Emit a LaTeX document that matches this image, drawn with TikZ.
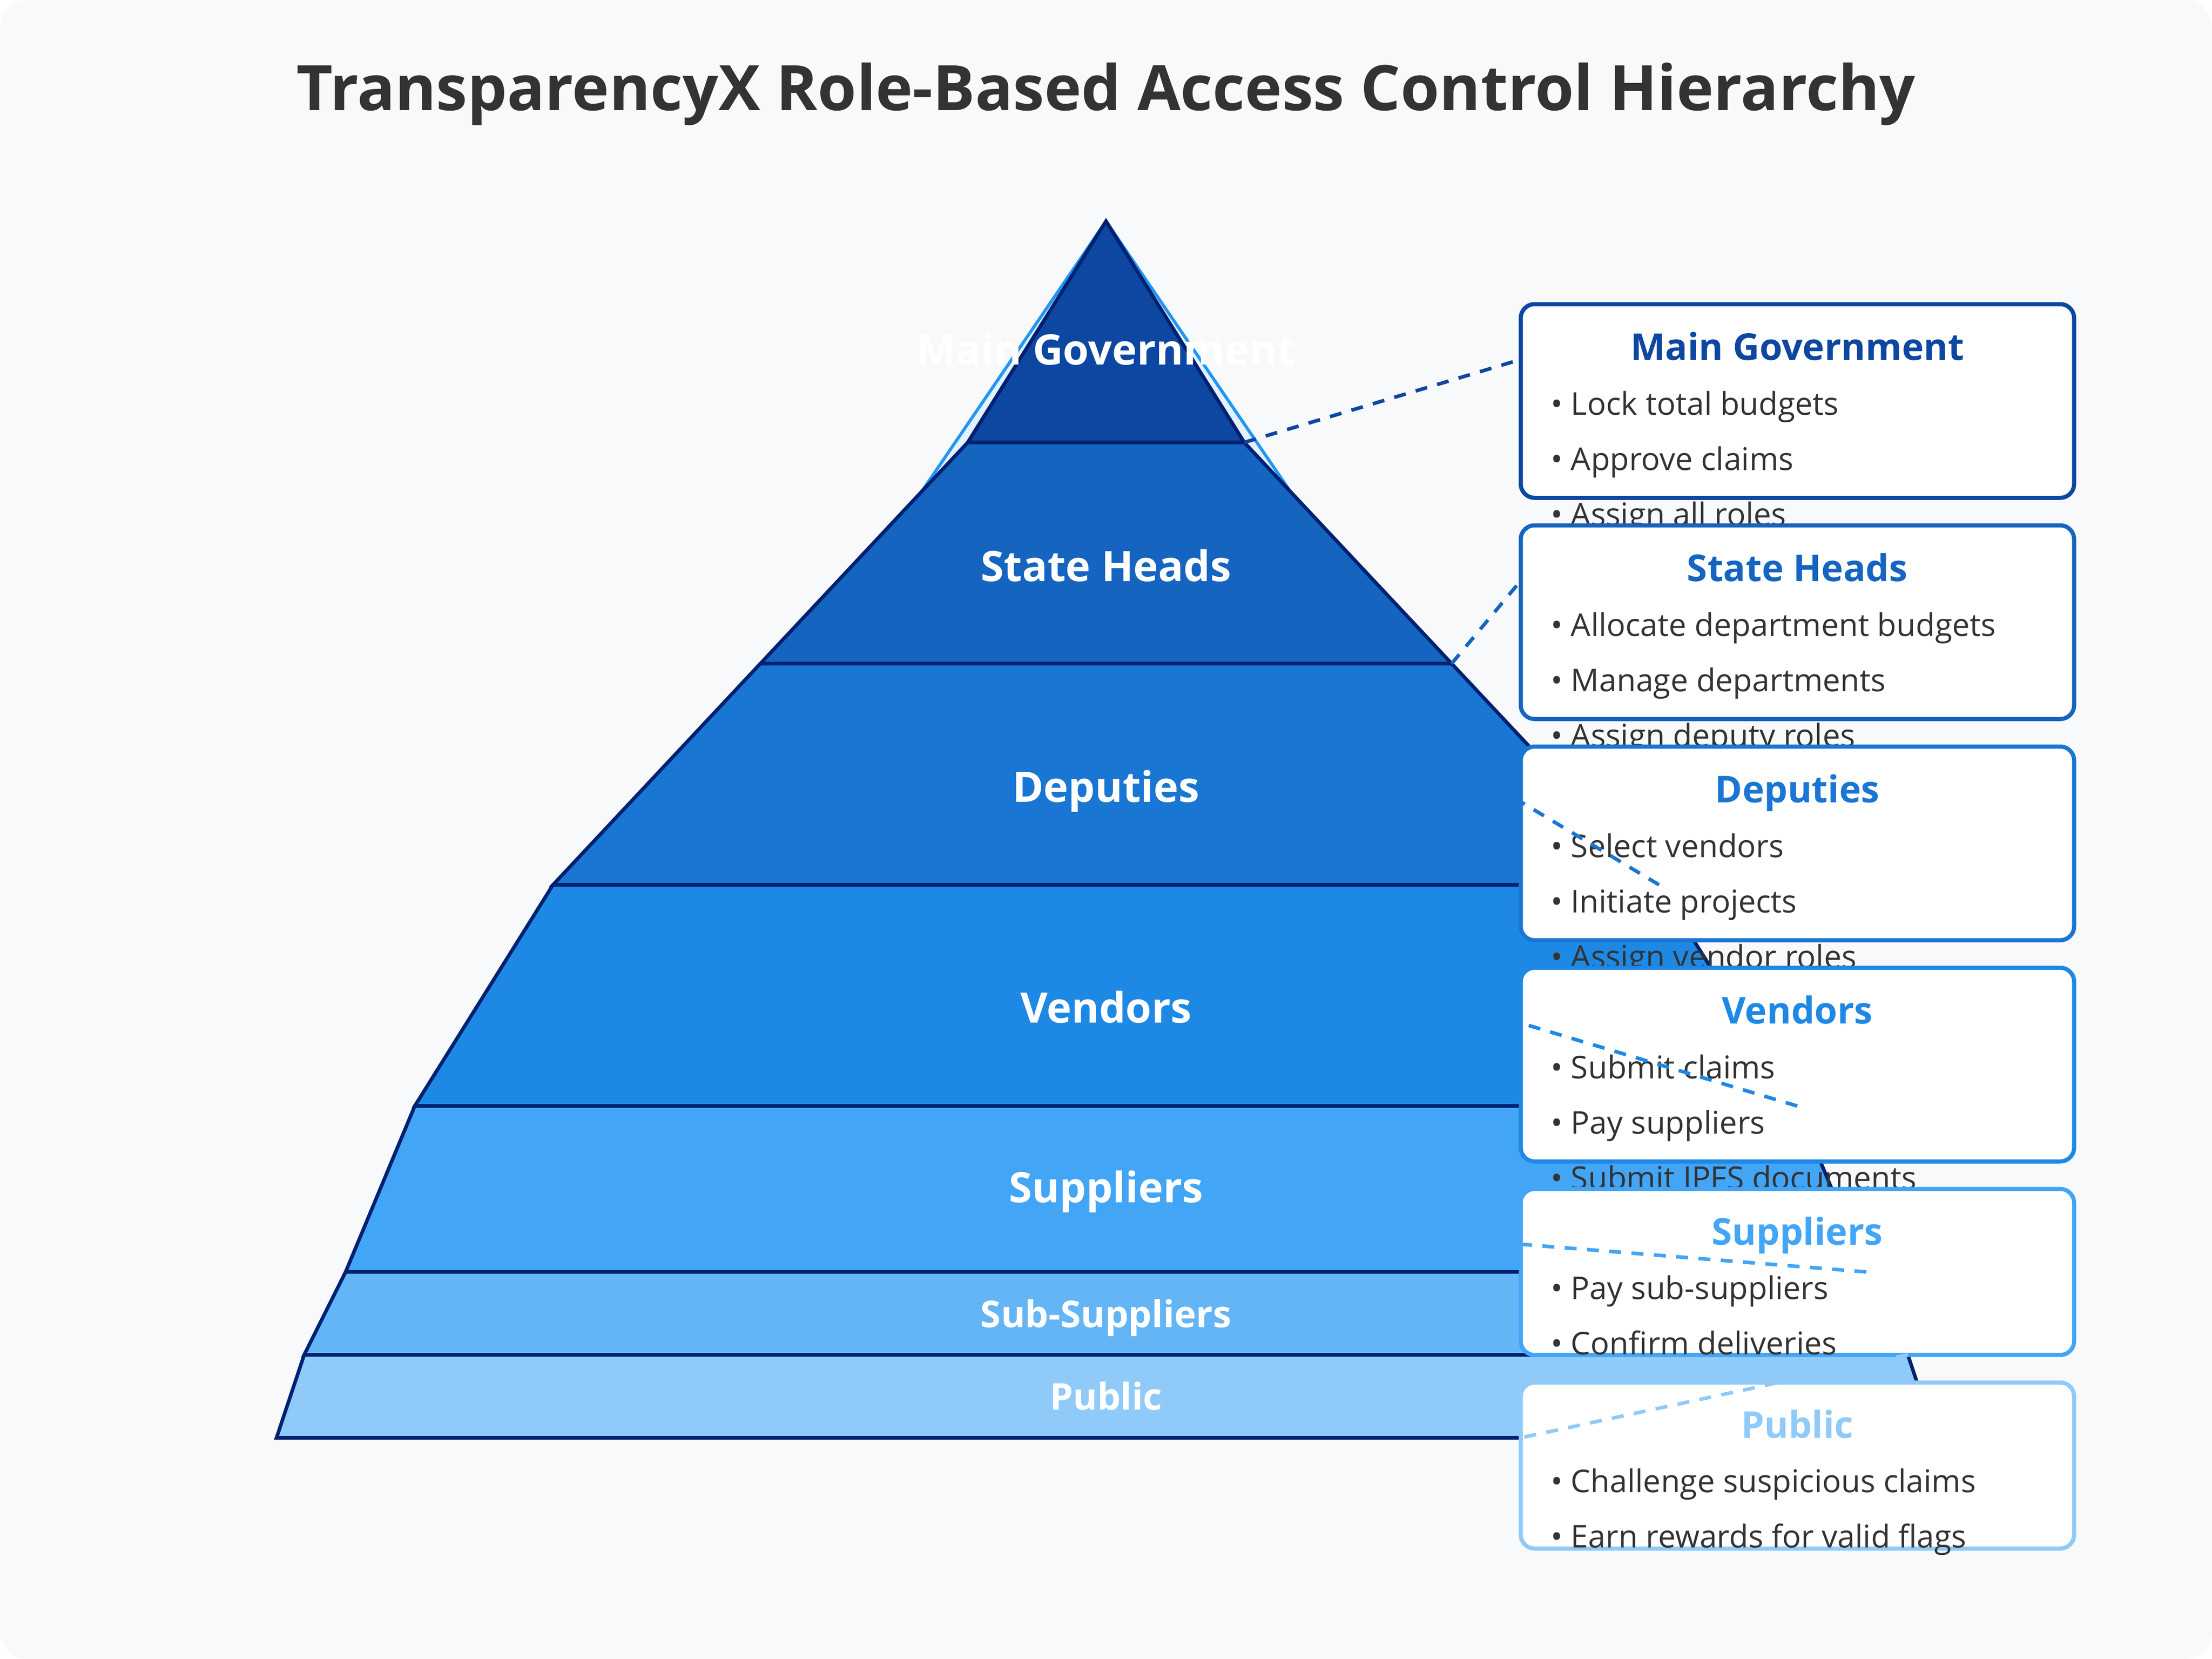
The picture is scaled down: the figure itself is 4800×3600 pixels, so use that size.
\documentclass[tikz,border=0pt]{standalone}
\usepackage{fontspec}
\setmainfont{Open Sans}
\definecolor{c1}{HTML}{0D47A1}
\definecolor{c2}{HTML}{1565C0}
\definecolor{c3}{HTML}{1976D2}
\definecolor{c4}{HTML}{1E88E5}
\definecolor{c5}{HTML}{42A5F5}
\definecolor{c6}{HTML}{64B5F6}
\definecolor{c7}{HTML}{90CAF9}
\definecolor{navy}{HTML}{002171}
\definecolor{outl}{HTML}{2196F3}
\definecolor{outfill}{HTML}{E3F2FD}
\definecolor{bg}{HTML}{F8F9FA}
\definecolor{txt}{HTML}{333333}
\tikzset{
  layer/.style={draw=navy, line width=2.2pt, line join=miter},
  lbl/.style={text=white, font=\bfseries\fontsize{25.9pt}{30pt}\selectfont, anchor=base, inner sep=0pt},
  lblsm/.style={text=white, font=\bfseries\fontsize{22.8pt}{27pt}\selectfont, anchor=base, inner sep=0pt},
  card/.style={draw, fill=white, line width=2.56pt, rounded corners=0.3cm, minimum width=12cm, anchor=north west, inner sep=0pt, outer sep=0pt},
  cardtitle/.style={font=\bfseries\fontsize{22.8pt}{27pt}\selectfont, anchor=base, inner sep=0pt},
  item/.style={text=txt, font=\fontsize{19.35pt}{23pt}\selectfont, anchor=base west, inner sep=0pt},
  conn/.style={line width=2.2pt, dash pattern=on 7.4pt off 6.4pt},
}
\begin{document}
\begin{tikzpicture}[x=0.01cm, y=-0.01cm]
\useasboundingbox (0,0) rectangle (4800,3600);
\fill[bg, rounded corners=0.6cm] (0,0) rectangle (4800,3600);

\node[text=txt, font=\bfseries\fontsize{38.7pt}{46pt}\selectfont, anchor=base, inner sep=0pt] (title) at (2400,239) {TransparencyX Role-Based Access Control Hierarchy};

% overall outline
\draw[outl, fill=outfill, line width=1.9pt, line join=miter] (2400,480) -- (4200,3120) -- (600,3120) -- cycle;

% layers
\draw[layer, fill=c1] (2400,480) -- (2700,960) -- (2100,960) -- cycle;
\node[lbl] (lab1) at (2400,791) {Main Government};
\draw[layer, fill=c2] (2100,960) -- (2700,960) -- (3150,1440) -- (1650,1440) -- cycle;
\node[lbl] (lab2) at (2400,1261) {State Heads};
\draw[layer, fill=c3] (1650,1440) -- (3150,1440) -- (3600,1920) -- (1200,1920) -- cycle;
\node[lbl] (lab3) at (2400,1740) {Deputies};
\draw[layer, fill=c4] (1200,1920) -- (3600,1920) -- (3900,2400) -- (900,2400) -- cycle;
\node[lbl] (lab4) at (2400,2219) {Vendors};
\draw[layer, fill=c5] (900,2400) -- (3900,2400) -- (4050,2760) -- (750,2760) -- cycle;
\node[lbl] (lab5) at (2400,2609) {Suppliers};
\draw[layer, fill=c6] (750,2760) -- (4050,2760) -- (4140,2940) -- (660,2940) -- cycle;
\node[lblsm] (lab6) at (2400,2880) {Sub-Suppliers};
\draw[layer, fill=c7] (660,2940) -- (4140,2940) -- (4200,3120) -- (600,3120) -- cycle;
\node[lblsm] (lab7) at (2400,3059) {Public};

% cards
\node[card, draw=c1, minimum height=4.2cm] (box1) at (3300,660) {};
\node[cardtitle, text=c1] (t1) at (3900,781) {Main Government};
\node[item] (i11) at (3365,900) {• Lock total budgets};
\node[item] (i12) at (3365,1020) {• Approve claims};
\node[item] (i13) at (3365,1140) {• Assign all roles};

\node[card, draw=c2, minimum height=4.2cm] (box2) at (3300,1140) {};
\node[cardtitle, text=c2] (t2) at (3900,1261) {State Heads};
\node[item] (i21) at (3365,1380) {• Allocate department budgets};
\node[item] (i22) at (3365,1500) {• Manage departments};
\node[item] (i23) at (3365,1620) {• Assign deputy roles};

\node[card, draw=c3, minimum height=4.2cm] (box3) at (3300,1620) {};
\node[cardtitle, text=c3] (t3) at (3900,1741) {Deputies};
\node[item] (i31) at (3365,1860) {• Select vendors};
\node[item] (i32) at (3365,1980) {• Initiate projects};
\node[item] (i33) at (3365,2100) {• Assign vendor roles};

\node[card, draw=c4, minimum height=4.2cm] (box4) at (3300,2100) {};
\node[cardtitle, text=c4] (t4) at (3900,2221) {Vendors};
\node[item] (i41) at (3365,2340) {• Submit claims};
\node[item] (i42) at (3365,2460) {• Pay suppliers};
\node[item] (i43) at (3365,2580) {• Submit IPFS documents};

\node[card, draw=c5, minimum height=3.6cm] (box5) at (3300,2580) {};
\node[cardtitle, text=c5] (t5) at (3900,2701) {Suppliers};
\node[item] (i51) at (3365,2819) {• Pay sub-suppliers};
\node[item] (i52) at (3365,2939) {• Confirm deliveries};

\node[card, draw=c7, minimum height=3.6cm] (box6) at (3300,3000) {};
\node[cardtitle, text=c7] (t6) at (3900,3120) {Public};
\node[item] (i61) at (3365,3238) {• Challenge suspicious claims};
\node[item] (i62) at (3365,3358) {• Earn rewards for valid flags};

% connector end points
\coordinate (s1) at (2700,960);  \coordinate (e1) at (3300,780);
\coordinate (s2) at (3150,1440); \coordinate (e2) at (3300,1260);
\coordinate (s3) at (3600,1920); \coordinate (e3) at (3300,1740);
\coordinate (s4) at (3900,2400); \coordinate (e4) at (3300,2220);
\coordinate (s5) at (4050,2760); \coordinate (e5) at (3300,2700);
\coordinate (s6) at (4140,2940); \coordinate (e6) at (3300,3120);
\draw[conn, c1] (s1) -- (e1);
\draw[conn, c2] (s2) -- (e2);
\draw[conn, c3] (s3) -- (e3);
\draw[conn, c4] (s4) -- (e4);
\draw[conn, c5] (s5) -- (e5);
\draw[conn, c7] (s6) -- (e6);
\end{tikzpicture}
\end{document}
